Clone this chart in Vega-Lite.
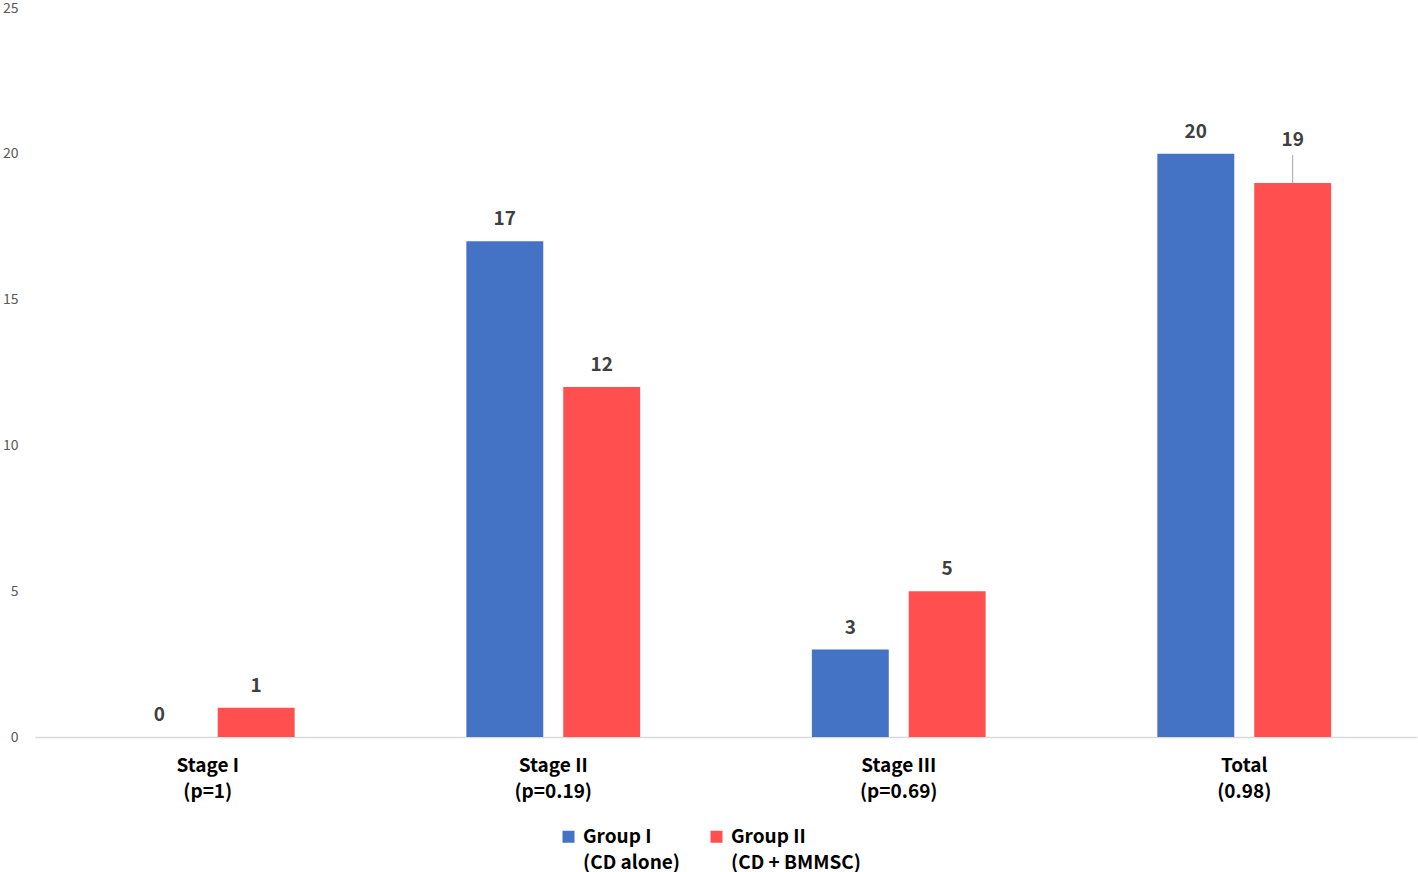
{
  "$schema": "https://vega.github.io/schema/vega-lite/v6.json",
  "width": 1382,
  "height": 729,
  "autosize": {"type": "none"},
  "padding": {"left": 35, "top": 8, "right": 1, "bottom": 135},
  "background": "white",
  "config": {"view": {"stroke": null}, "font": "Noto Sans CJK KR"},
  "data": {
    "values": [
      {"stage": "Stage I|(p=1)", "group": "Group I|(CD alone)", "count": 0},
      {"stage": "Stage I|(p=1)", "group": "Group II|(CD + BMMSC)", "count": 1},
      {"stage": "Stage II|(p=0.19)", "group": "Group I|(CD alone)", "count": 17},
      {"stage": "Stage II|(p=0.19)", "group": "Group II|(CD + BMMSC)", "count": 12},
      {"stage": "Stage III|(p=0.69)", "group": "Group I|(CD alone)", "count": 3},
      {"stage": "Stage III|(p=0.69)", "group": "Group II|(CD + BMMSC)", "count": 5},
      {"stage": "Total|(0.98)", "group": "Group I|(CD alone)", "count": 20},
      {"stage": "Total|(0.98)", "group": "Group II|(CD + BMMSC)", "count": 19}
    ]
  },
  "encoding": {
    "x": {
      "field": "stage", "type": "nominal", "sort": null,
      "scale": {"paddingInner": 0.497, "paddingOuter": 0.2485},
      "axis": {
        "title": null, "labelAngle": 0, "ticks": false,
        "domainColor": "#d9d9d9", "domainWidth": 1.5,
        "labelExpr": "split(datum.label, '|')",
        "labelFont": "Noto Sans CJK KR", "labelFontWeight": "bold", "labelFontSize": 19,
        "labelColor": "#000000", "labelPadding": 19, "labelLineHeight": 26
      }
    },
    "xOffset": {"field": "group", "type": "nominal", "sort": null, "scale": {"paddingInner": 0.206, "paddingOuter": 0}},
    "y": {
      "field": "count", "type": "quantitative",
      "scale": {"domain": [0, 25], "nice": false},
      "axis": {
        "title": null, "values": [0, 5, 10, 15, 20, 25], "grid": false,
        "domain": false, "ticks": false, "labelPadding": 17,
        "labelFontSize": 14, "labelColor": "#595959", "labelFont": "Noto Sans CJK KR"
      }
    }
  },
  "layer": [
    {
      "mark": {"type": "bar"},
      "encoding": {
        "color": {
          "field": "group", "type": "nominal", "sort": null,
          "scale": {"range": ["#4472C4", "#FF4F4F"]},
          "legend": {
            "title": null, "orient": "none", "direction": "horizontal",
            "legendX": 524, "legendY": 819,
            "symbolType": "square", "symbolSize": 144, "symbolStrokeWidth": 0,
            "labelExpr": "split(datum.label, '|')",
            "labelFont": "Noto Sans CJK KR", "labelFontWeight": "bold", "labelFontSize": 19,
            "labelColor": "#000000", "labelBaseline": "alphabetic", "labelOffset": 5,
            "columnPadding": 26,
            "encode": {"labels": {"update": {"lineHeight": {"value": 26}, "dy": {"value": 6}}}}
          }
        }
      }
    },
    {
      "transform": [{"filter": "!(datum.stage == 'Total|(0.98)' && datum.group == 'Group II|(CD + BMMSC)')"}],
      "mark": {"type": "text", "dy": -22, "baseline": "middle", "fontWeight": "bold", "fontSize": 19, "color": "#404040", "font": "Noto Sans CJK KR"},
      "encoding": {"text": {"field": "count", "type": "quantitative"}}
    },
    {
      "transform": [{"filter": "datum.stage == 'Total|(0.98)' && datum.group == 'Group II|(CD + BMMSC)'"}],
      "mark": {"type": "text", "dy": -43, "baseline": "middle", "fontWeight": "bold", "fontSize": 19, "color": "#404040", "font": "Noto Sans CJK KR"},
      "encoding": {"text": {"field": "count", "type": "quantitative"}}
    },
    {
      "transform": [{"filter": "datum.stage == 'Total|(0.98)' && datum.group == 'Group II|(CD + BMMSC)'"}],
      "mark": {"type": "rule", "y2Offset": -28, "color": "#a6a6a6", "strokeWidth": 1},
      "encoding": {"y2": {"field": "count"}}
    }
  ]
}
